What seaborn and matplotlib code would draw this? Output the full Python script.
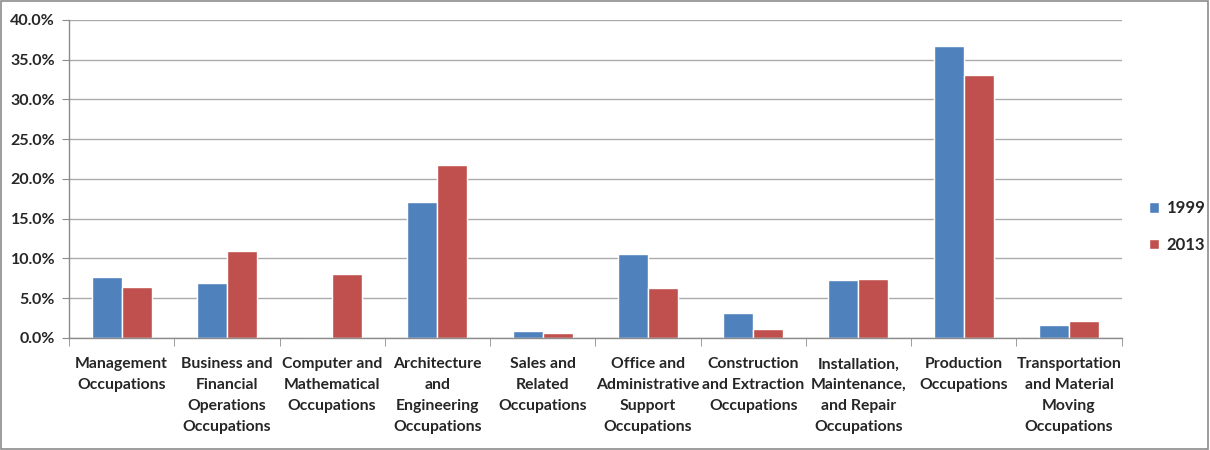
import matplotlib
matplotlib.use("Agg")
import matplotlib.pyplot as plt
import matplotlib.patches as mpatches
from matplotlib.ticker import FuncFormatter, MultipleLocator
import seaborn as sns
import pandas as pd

# -----------------------------
# Dados
# -----------------------------
categories = [
    "Management\nOccupations",
    "Business and\nFinancial\nOperations\nOccupations",
    "Computer and\nMathematical\nOccupations",
    "Architecture\nand\nEngineering\nOccupations",
    "Sales and\nRelated\nOccupations",
    "Office and\nAdministrative\nSupport\nOccupations",
    "Construction\nand Extraction\nOccupations",
    "Installation,\nMaintenance,\nand Repair\nOccupations",
    "Production\nOccupations",
    "Transportation\nand Material\nMoving\nOccupations",
]
years = ["1999", "2013"]
share_1999 = [7.7, 6.9, 0.0, 17.1, 0.9, 10.5, 3.1, 7.25, 36.7, 1.6]
share_2013 = [6.4, 10.9, 8.05, 21.7, 0.65, 6.3, 1.1, 7.4, 33.1, 2.1]
colors = ["#4F81BD", "#C0504D"]

df = pd.DataFrame({
    "category": categories * 2,
    "year": [years[0]] * len(categories) + [years[1]] * len(categories),
    "share": share_1999 + share_2013,
})

sns.set_style("white")
plt.rcParams["font.family"] = ["Lato", "DejaVu Sans"]
plt.rcParams["font.weight"] = "bold"

fig = plt.figure(figsize=(12.1, 4.5), dpi=100)
ax = fig.add_axes([0.057, 0.249, 0.870, 0.7066])

sns.barplot(data=df, x="category", y="share", hue="year", palette=colors,
            width=0.57, saturation=1, ax=ax, legend=True)

# Eixos
ax.set_ylim(0, 40)
ax.set_xlim(-0.5, len(categories) - 0.5)
ax.yaxis.set_major_locator(MultipleLocator(5))
ax.yaxis.set_major_formatter(FuncFormatter(lambda v, p: f"{v:.1f}%"))
ax.set_xlabel("")
ax.set_ylabel("")
ax.grid(axis="y", color="#ABABAB", linewidth=1.0)
ax.set_axisbelow(True)

for side in ["top", "right"]:
    ax.spines[side].set_visible(False)
for side in ["left", "bottom"]:
    ax.spines[side].set_color("#8C8C8C")
    ax.spines[side].set_linewidth(1.0)

ax.tick_params(axis="y", length=5, color="#8C8C8C", labelsize=11.5, pad=5, left=True)
ax.tick_params(axis="x", which="major", length=0, labelsize=11.3, pad=14)
ax.set_xticks(range(len(categories)))
ax.set_xticklabels(categories, fontweight="bold", linespacing=1.62)
for lbl in ax.get_yticklabels():
    lbl.set_fontweight("bold")

# marcas entre categorias
ax.set_xticks([i - 0.5 for i in range(len(categories) + 1)], minor=True)
ax.tick_params(axis="x", which="minor", length=6, color="#8C8C8C", bottom=True)

# Legenda
ax.legend(loc="center left", bbox_to_anchor=(1.012, 0.35), frameon=False,
          handlelength=0.6, handleheight=0.6, labelspacing=1.25,
          handletextpad=0.45, prop={"size": 12, "weight": "bold"})

# Moldura
fig.patches.append(mpatches.Rectangle((0.001, 0.002), 0.997, 0.996, transform=fig.transFigure,
                                      fill=False, edgecolor="#8C8C8C", linewidth=1.2))

fig.savefig("out.png", dpi=100)
